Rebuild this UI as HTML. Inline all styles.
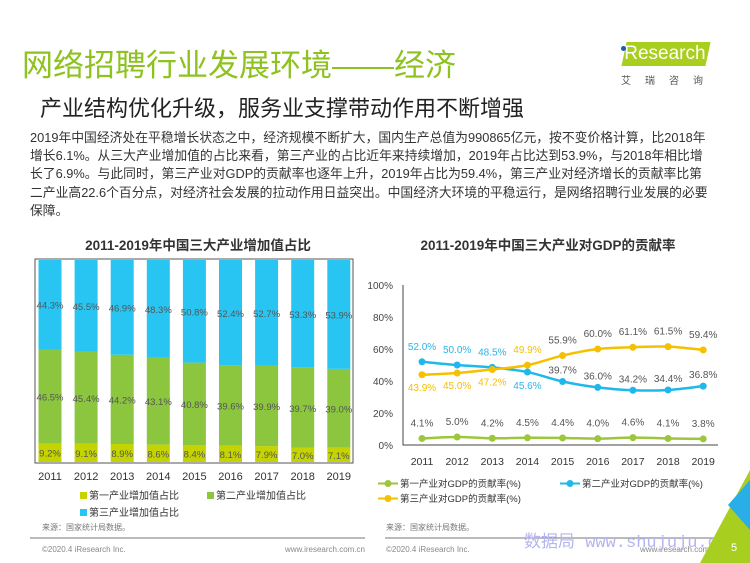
<!DOCTYPE html>
<html><head><meta charset="utf-8"><style>
body{margin:0;width:750px;height:563px;overflow:hidden;background:#fff;font-family:"Liberation Sans","Noto Sans CJK SC",sans-serif;position:relative}
.t{position:absolute;white-space:nowrap}
</style></head><body>
<div class="t" style="left:22px;top:40px;font-size:31px;color:#8dc21f">网络招聘行业发展环境——经济</div>
<div class="t" style="left:40px;top:91px;font-size:22px;color:#222">产业结构优化升级，服务业支撑带动作用不断增强</div>
<div style="position:absolute;left:618px;top:42px;width:90px;height:26px">
<div style="position:absolute;left:6px;top:0;width:84px;height:24px;background:#a8cf1f;transform:skewX(-12deg)"></div>
<div class="t" style="left:2px;top:1px;font-size:19px;color:#fff">iResearch</div>
<div style="position:absolute;left:3px;top:4px;width:5px;height:5px;border-radius:50%;background:#1a5fa8"></div>
</div>
<div class="t" style="left:621px;top:72px;font-size:10px;color:#555;letter-spacing:14px">艾瑞咨询</div>
<div style="position:absolute;left:30px;top:129px;width:682px;font-size:12.8px;line-height:18.2px;color:#333">2019年中国经济处在平稳增长状态之中，经济规模不断扩大，国内生产总值为990865亿元，按不变价格计算，比2018年增长6.1%。从三大产业增加值的占比来看，第三产业的占比近年来持续增加，2019年占比达到53.9%，与2018年相比增长了6.9%。与此同时，第三产业对GDP的贡献率也逐年上升，2019年占比为59.4%，第三产业对经济增长的贡献率比第二产业高22.6个百分点，对经济社会发展的拉动作用日益突出。中国经济大环境的平稳运行，是网络招聘行业发展的必要保障。</div>
<svg id="svg" width="750" height="563" style="position:absolute;left:0;top:0" font-family="Liberation Sans, Noto Sans CJK SC, sans-serif">
<text x="198" y="250" text-anchor="middle" font-size="13.5" font-weight="bold" fill="#333">2011-2019年中国三大产业增加值占比</text>
<text x="548" y="250" text-anchor="middle" font-size="13.5" font-weight="bold" fill="#333">2011-2019年中国三大产业对GDP的贡献率</text>
<rect x="35" y="259" width="318" height="204" fill="none" stroke="#555" stroke-width="1"/>
<g id="bars"></g>
<g id="lines"></g>
<line x1="30" y1="538" x2="365" y2="538" stroke="#777"/>
<line x1="385" y1="538" x2="720" y2="538" stroke="#777"/>
<text x="42" y="530" font-size="8" fill="#777">来源：国家统计局数据。</text>
<text x="386" y="530" font-size="8" fill="#777">来源：国家统计局数据。</text>
<text x="42" y="552" font-size="8" fill="#888">©2020.4 iResearch Inc.</text>
<text x="365" y="552" font-size="8" fill="#888" text-anchor="end">www.iresearch.com.cn</text>
<text x="386" y="552" font-size="8" fill="#888">©2020.4 iResearch Inc.</text>
<text x="720" y="552" font-size="8" fill="#888" text-anchor="end">www.iresearch.com.cn</text>
<text x="524" y="547" font-size="17" fill="#b5b5f0" font-family="Liberation Mono, Noto Sans CJK SC, monospace">数据局 www.shujuju.cn</text>
<polygon points="750,470 750,563 700,563" fill="#a8cf1f"/>
<polygon points="750,480 750,530 728,505" fill="#29aee8"/>
<text x="731" y="551" font-size="11" fill="#fff">5</text>
</svg>
<script>
const years=["2011","2012","2013","2014","2015","2016","2017","2018","2019"];
const primaryShare=[9.2,9.1,8.9,8.6,8.4,8.1,7.9,7.0,7.1];
const secondaryShare=[46.5,45.4,44.2,43.1,40.8,39.6,39.9,39.7,39.0];
const tertiaryShare=[44.3,45.5,46.9,48.3,50.8,52.4,52.7,53.3,53.9];
const primaryContrib=[4.1,5.0,4.2,4.5,4.4,4.0,4.6,4.1,3.8];
const secondaryContrib=[52.0,50.0,48.5,45.6,39.7,36.0,34.2,34.4,36.8];
const tertiaryContrib=[43.9,45.0,47.2,49.9,55.9,60.0,61.1,61.5,59.4];
const yTicks=[0,20,40,60,80,100];
const NS="http://www.w3.org/2000/svg";
function mk(p,tag,a,txt){const e=document.createElementNS(NS,tag);for(const k in a)e.setAttribute(k,a[k]);if(txt!=null)e.textContent=txt;p.appendChild(e);return e;}
// left chart
const bg=document.getElementById('bars');
const bx=i=>50+i*36.1, bw=23, plotTop=260, plotBot=462;
const by=v=>plotBot-(v/100)*(plotBot-plotTop);
years.forEach((y,i)=>{
  const tot=primaryShare[i]+secondaryShare[i]+tertiaryShare[i];
  const segs=[[primaryShare[i],'#c5d400','first'],[secondaryShare[i],'#8cc63f','second'],[tertiaryShare[i],'#29c5f2','third']];
  let acc=0;
  segs.forEach(s=>{
    const v=s[0]/tot*100;const y0=by(acc),y1=by(acc+v);
    const r=mk(bg,'rect',{x:bx(i)-bw/2,y:y1,width:bw,height:y0-y1,fill:s[1]});
    
    
    const t=mk(bg,'text',{x:bx(i),y:(y0+y1)/2+4,'text-anchor':'middle','font-size':9.5,fill:'#555'},s[0].toFixed(1)+'%');
    
    
    acc+=v;
  });
  const yl=mk(bg,'text',{x:bx(i),y:480,'text-anchor':'middle','font-size':11,fill:'#333'},y);
  
  
});
const legL=[['第一产业增加值占比','#c5d400',80,499],['第二产业增加值占比','#8cc63f',207,499],['第三产业增加值占比','#29c5f2',80,516]];
legL.forEach((l,k)=>{
  const g=mk(bg,'g',{});
  
  
  mk(g,'rect',{x:l[2],y:l[3]-7,width:7,height:7,fill:l[1]});
  mk(g,'text',{x:l[2]+9,y:l[3],'font-size':10,fill:'#333'},l[0]);
});
// right chart
const lg=document.getElementById('lines');
const lx=i=>422+i*35.15, ly=v=>445-v*1.6;
const ax=mk(lg,'path',{d:'M403 285 V445 H718',fill:'none',stroke:'#444','stroke-width':1});


yTicks.forEach(t=>{
  const e=mk(lg,'text',{x:393,y:ly(t)+4,'text-anchor':'end','font-size':10,fill:'#444'},t+'%');
  
  
});
years.forEach((y,i)=>{
  const e=mk(lg,'text',{x:lx(i),y:465,'text-anchor':'middle','font-size':10.5,fill:'#333'},y);
  
  
});
function smooth(pts){let d='M'+pts[0][0]+' '+pts[0][1];for(let i=0;i<pts.length-1;i++){const p0=pts[i-1]||pts[i],p1=pts[i],p2=pts[i+1],p3=pts[i+2]||p2;const t=0.18;d+=` C${p1[0]+(p2[0]-p0[0])*t} ${p1[1]+(p2[1]-p0[1])*t} ${p2[0]-(p3[0]-p1[0])*t} ${p2[1]-(p3[1]-p1[1])*t} ${p2[0]} ${p2[1]}`;}return d;}
const series=[
 {d:primaryContrib,c:'#9dc63c',n:'primary',lab:i=>[-12,'#555']},
 {d:secondaryContrib,c:'#1fb8ec',n:'secondary',lab:i=>i<3?[-12,'#29b5e8']:i==3?[17,'#29b5e8']:[-8,'#555']},
 {d:tertiaryContrib,c:'#f5c000',n:'tertiary',lab:i=>i<4?(i==3?[-12,'#f5c000']:[16,'#f5c000']):[-12,'#555']}
];
series.forEach(s=>{
  const pts=s.d.map((v,i)=>[lx(i),ly(v)]);
  const p=mk(lg,'path',{d:smooth(pts),fill:'none',stroke:s.c,'stroke-width':2.5});
  
  
  s.d.forEach((v,i)=>{
    const c=mk(lg,'circle',{cx:lx(i),cy:ly(v),r:3.5,fill:s.c});
    
    
    const L=s.lab(i);
    const t=mk(lg,'text',{x:lx(i),y:ly(v)+L[0],'text-anchor':'middle','font-size':10,fill:L[1]},v.toFixed(1)+'%');
    
    
  });
});
const legR=[['第一产业对GDP的贡献率(%)','#9dc63c',378,487],['第二产业对GDP的贡献率(%)','#1fb8ec',560,487],['第三产业对GDP的贡献率(%)','#f5c000',378,502]];
legR.forEach((l,k)=>{
  const g=mk(lg,'g',{});
  
  
  mk(g,'line',{x1:l[2],y1:l[3]-3.5,x2:l[2]+20,y2:l[3]-3.5,stroke:l[1],'stroke-width':2});
  mk(g,'circle',{cx:l[2]+10,cy:l[3]-3.5,r:3.5,fill:l[1]});
  mk(g,'text',{x:l[2]+22,y:l[3],'font-size':9.5,fill:'#333'},l[0]);
});
</script>
</body></html>
